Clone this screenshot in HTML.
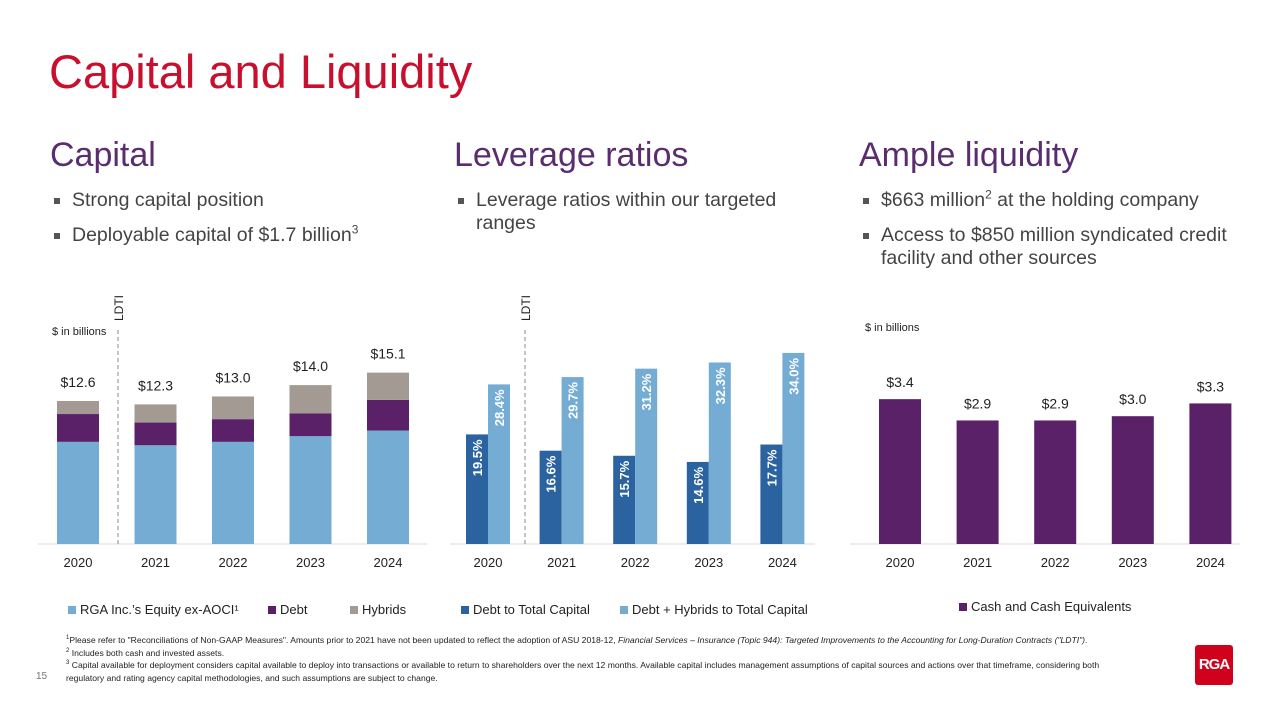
<!DOCTYPE html>
<html><head><meta charset="utf-8">
<style>
body{margin:0;width:1280px;height:720px;background:#fff;font-family:"Liberation Sans",sans-serif;position:relative;overflow:hidden}
.abs{position:absolute}
h1{position:absolute;left:49px;top:44px;margin:0;font-size:47px;font-weight:normal;color:#c8102e}
.sub{position:absolute;top:136px;font-size:34px;color:#5a2d6e;margin:0;font-weight:normal}
ul{position:absolute;top:189px;margin:0;padding:0;list-style:none;font-size:19.5px;color:#444;line-height:23px}
li{position:relative;padding-left:20px;margin-bottom:12px}
li:before{content:"";position:absolute;left:2px;top:9px;width:6px;height:6px;background:#555}
sup{font-size:12px;line-height:0}
.foot{position:absolute;left:66px;top:634px;font-size:8.6px;color:#222;line-height:12.5px;width:1070px}
</style></head><body>
<h1>Capital and Liquidity</h1>
<h2 class="sub" style="left:50px">Capital</h2>
<h2 class="sub" style="left:454px">Leverage ratios</h2>
<h2 class="sub" style="left:859px">Ample liquidity</h2>
<ul style="left:52px;width:370px"><li>Strong capital position</li><li>Deployable capital of $1.7 billion<sup>3</sup></li></ul>
<ul style="left:456px;width:350px"><li>Leverage ratios within our targeted ranges</li></ul>
<ul style="left:861px;width:400px"><li>$663 million<sup>2</sup> at the holding company</li><li>Access to $850 million syndicated credit facility and other sources</li></ul>
<svg class="abs" style="left:0;top:0" width="1280" height="720" id="chart"></svg>
<div class="foot"><sup style="font-size:6px">1</sup>Please refer to "Reconciliations of Non-GAAP Measures". Amounts prior to 2021 have not been updated to reflect the adoption of ASU 2018-12, <i>Financial Services – Insurance (Topic 944): Targeted Improvements to the Accounting for Long-Duration Contracts ("LDTI")</i>.<br><sup style="font-size:6px">2</sup> Includes both cash and invested assets.<br><sup style="font-size:6px">3</sup> Capital available for deployment considers capital available to deploy into transactions or available to return to shareholders over the next 12 months. Available capital includes management assumptions of capital sources and actions over that timeframe, considering both regulatory and rating agency capital methodologies, and such assumptions are subject to change.</div>
<div class="abs" style="left:36px;top:671px;font-size:10px;color:#777">15</div>
<div class="abs" style="left:1195px;top:645px;width:38px;height:40px;background:#d0021b;border-radius:3px;color:#fff;font-weight:bold;font-size:15px;line-height:40px;text-align:center;letter-spacing:-1px">RGA</div>
<script>
const years=["2020","2021","2022","2023","2024"];
const equity=[9.0,8.7,9.0,9.5,10.0];
const debt=[2.45,2.0,2.0,2.0,2.7];
const hybrids=[1.15,1.6,2.0,2.5,2.4];
const totalLabels=["$12.6","$12.3","$13.0","$14.0","$15.1"];
const debtRatio=[19.5,16.6,15.7,14.6,17.7];
const hybRatio=[28.4,29.7,31.2,32.3,34.0];
const cash=[3.4,2.9,2.9,3.0,3.3];
const cashLabels=["$3.4","$2.9","$2.9","$3.0","$3.3"];
const svg=document.getElementById('chart');const NS="http://www.w3.org/2000/svg";
function mk(t,a,txt){const e=document.createElementNS(NS,t);for(const k in a)e.setAttribute(k,a[k]);if(txt!==undefined)e.textContent=txt;svg.appendChild(e);return e;}
const base=544;
// chart 1
const x1=i=>78+i*77.5, y1=v=>base-v*11.35;
mk('line',{x1:38,x2:427,y1:base,y2:base,stroke:'#d9d9d9'});
years.forEach((yr,i)=>{
 const cx=x1(i);let acc=0;
 [[equity,'#75acd4','equity'],[debt,'#5a2168','debt'],[hybrids,'#a39a94','hybrids']].forEach(([arr,c,n])=>{
  const r=mk('rect',{x:cx-21,width:42,y:y1(acc+arr[i]),height:arr[i]*11.35,fill:c});
  
  
  acc+=arr[i];});
 const t=mk('text',{x:cx,y:y1(acc)-14,'text-anchor':'middle','font-size':14,fill:'#222'},totalLabels[i]);
 
 
 const xl=mk('text',{x:cx,y:567,'text-anchor':'middle','font-size':13,fill:'#222'},yr);
 
 
});
// chart 2
const x2=i=>488+i*73.6, y2=v=>base-v*5.62;
mk('line',{x1:450,x2:815,y1:base,y2:base,stroke:'#d9d9d9'});
years.forEach((yr,i)=>{
 const cx=x2(i);
 [[debtRatio,'#2b62a0',-22,'debt-ratio'],[hybRatio,'#75acd4',0,'hybrid-ratio']].forEach(([arr,c,off,n])=>{
  const r=mk('rect',{x:cx+off,width:22,y:y2(arr[i]),height:arr[i]*5.62,fill:c});
  
  
  const lx=cx+off+16,ly=y2(arr[i])+5;
  const t=mk('text',{x:lx,y:ly,transform:`rotate(-90 ${lx} ${ly})`,'text-anchor':'end','font-size':13,'font-weight':'bold',fill:'#fff'},arr[i].toFixed(1)+'%');
  
  
 });
 const xl=mk('text',{x:cx,y:567,'text-anchor':'middle','font-size':13,fill:'#222'},yr);
 
 
});
// chart 3
const x3=i=>900+i*77.6, y3=v=>base-v*42.6;
mk('line',{x1:850,x2:1240,y1:base,y2:base,stroke:'#d9d9d9'});
years.forEach((yr,i)=>{
 const cx=x3(i);
 const r=mk('rect',{x:cx-21,width:42,y:y3(cash[i]),height:cash[i]*42.6,fill:'#5a2168'});
 
 
 const t=mk('text',{x:cx,y:y3(cash[i])-12,'text-anchor':'middle','font-size':14,fill:'#222'},cashLabels[i]);
 
 
 const xl=mk('text',{x:cx,y:567,'text-anchor':'middle','font-size':13,fill:'#222'},yr);
 
 
});
// LDTI markers
[118,525].forEach(x=>{
 mk('line',{x1:x,x2:x,y1:330,y2:544,stroke:'#888','stroke-dasharray':'4,3'});
 mk('text',{x:x+5,y:321,transform:`rotate(-90 ${x+5} 321)`,'font-size':12,fill:'#222'},'LDTI');
});
mk('text',{x:52,y:335,'font-size':11,fill:'#222'},'$ in billions');
mk('text',{x:865,y:331,'font-size':11,fill:'#222'},'$ in billions');
// legends
function leg(x,c,txt,n){const r=mk('rect',{x:x,y:606,width:8,height:8,fill:c});
 const t=mk('text',{x:x+12,y:614,'font-size':13,fill:'#222'},txt);
 
 }
leg(68,'#75acd4','RGA Inc.\u2019s Equity ex-AOCI\u00b9','legend-equity');
leg(268,'#5a2168','Debt','legend-debt');
leg(350,'#a39a94','Hybrids','legend-hybrids');
leg(461,'#2b62a0','Debt to Total Capital','legend-debt-ratio');
leg(620,'#75acd4','Debt + Hybrids to Total Capital','legend-hybrid-ratio');
const cr=mk('rect',{x:959,y:603,width:8,height:8,fill:'#5a2168'});
const ct=mk('text',{x:971,y:611,'font-size':13,fill:'#222'},'Cash and Cash Equivalents');


</script>
</body></html>
